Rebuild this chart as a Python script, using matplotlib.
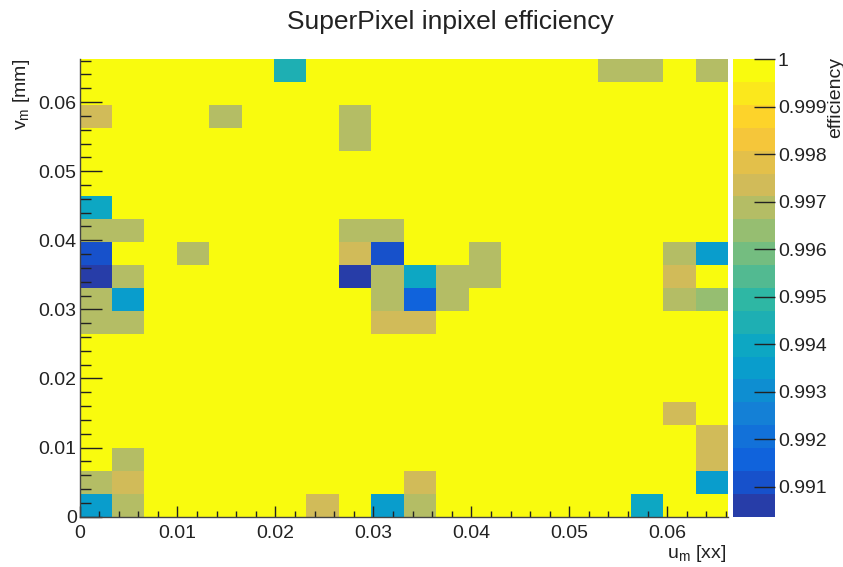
import numpy as np
import matplotlib
matplotlib.use('Agg')
import matplotlib.pyplot as plt
from matplotlib.colors import LinearSegmentedColormap, ListedColormap, Normalize
from matplotlib.ticker import MultipleLocator, FixedLocator, FuncFormatter

plt.rcParams['font.family'] = ['Liberation Sans', 'DejaVu Sans']

# ---------------------------- data ----------------------------
n_bins = 20
u_max = 0.0662   # mm
v_max = 0.0662   # mm
eff_min = 0.99037
eff_max = 1.0

# in-pixel cells below full efficiency (everything else is 1)
bad_u = [6, 16, 17, 19,
         0, 4, 8,
         8,
         0,
         0, 1, 8, 9,
         0, 3, 8, 9, 12, 18, 19,
         0, 1, 8, 9, 10, 11, 12, 18,
         0, 1, 9, 10, 11, 18, 19,
         0, 1, 9, 10,
         18,
         19,
         1, 19,
         0, 1, 10, 19,
         0, 1, 7, 9, 10, 17]
bad_v = [19, 19, 19, 19,
         17, 17, 17,
         16,
         13,
         12, 12, 12, 12,
         11, 11, 11, 11, 11, 11, 11,
         10, 10, 10, 10, 10, 10, 10, 10,
         9, 9, 9, 9, 9, 9, 9,
         8, 8, 8, 8,
         4,
         3,
         2, 2,
         1, 1, 1, 1,
         0, 0, 0, 0, 0, 0]
bad_eff = [0.99446, 0.99687, 0.99687, 0.99687,
           0.99735, 0.99687, 0.99687,
           0.99687,
           0.99398,
           0.99687, 0.99687, 0.99687, 0.99687,
           0.99109, 0.99687, 0.99735, 0.99109, 0.99687, 0.99687, 0.99350,
           0.99040, 0.99687, 0.99040, 0.99687, 0.99398, 0.99687, 0.99687, 0.99735,
           0.99687, 0.99350, 0.99687, 0.99157, 0.99687, 0.99687, 0.99639,
           0.99687, 0.99687, 0.99735, 0.99735,
           0.99735,
           0.99735,
           0.99687, 0.99735,
           0.99687, 0.99735, 0.99735, 0.99350,
           0.99350, 0.99687, 0.99735, 0.99350, 0.99687, 0.99398]

cbar_ticks = [0.991, 0.992, 0.993, 0.994, 0.995, 0.996, 0.997, 0.998, 0.999, 1.0]

# ---------------------------- ROOT kBird palette, 20 contours ----------------------------
stops = [0.0, 0.125, 0.25, 0.375, 0.5, 0.625, 0.75, 0.875, 1.0]
red = [0.2082, 0.0592, 0.0780, 0.0232, 0.1802, 0.5301, 0.8186, 0.9956, 0.9764]
green = [0.1664, 0.3599, 0.5041, 0.6419, 0.7178, 0.7492, 0.7328, 0.7862, 0.9832]
blue = [0.5293, 0.8684, 0.8385, 0.7914, 0.6425, 0.4662, 0.3499, 0.1968, 0.0539]
bird = LinearSegmentedColormap.from_list(
    'bird', list(zip(stops, zip(red, green, blue))), N=255)
cmap = ListedColormap([bird(min((k + 0.99) / n_bins, 1.0)) for k in range(n_bins)])
norm = Normalize(vmin=eff_min, vmax=eff_max)

eff = np.ones((n_bins, n_bins))
for iu, iv, e in zip(bad_u, bad_v, bad_eff):
    eff[iv, iu] = e

u_edges = np.linspace(0, u_max, n_bins + 1)
v_edges = np.linspace(0, v_max, n_bins + 1)

# ---------------------------- plot ----------------------------
fig = plt.figure(figsize=(8.43, 5.67), dpi=100)
ax = fig.add_axes([79.5 / 843, 1 - 516.6 / 567, (728 - 79.5) / 843, (516.6 - 59.3) / 567])
cax = fig.add_axes([733 / 843, 1 - 516.6 / 567, 42 / 843, (516.6 - 59.3) / 567])

mesh = ax.pcolormesh(u_edges, v_edges, eff, cmap=cmap, norm=norm)
ax.set_xlim(0, u_max)
ax.set_ylim(0, v_max)

for side in ['top', 'right']:
    ax.spines[side].set_visible(False)
for side in ['left', 'bottom']:
    ax.spines[side].set_color('#444444')
    ax.spines[side].set_linewidth(1.0)

ax.xaxis.set_major_locator(MultipleLocator(0.01))
ax.xaxis.set_minor_locator(MultipleLocator(0.002))
ax.yaxis.set_major_locator(MultipleLocator(0.01))
ax.yaxis.set_minor_locator(MultipleLocator(0.002))
fmt = FuncFormatter(lambda v, p: f'{v:g}' if abs(v) > 1e-9 else '0')
ax.xaxis.set_major_formatter(fmt)
ax.yaxis.set_major_formatter(fmt)

ax.tick_params(axis='x', which='major', direction='in', length=8, width=1,
               labelsize=14, pad=6, colors='#222222')
ax.tick_params(axis='x', which='minor', direction='in', length=4, width=1, colors='#222222')
ax.tick_params(axis='y', which='major', direction='in', length=16, width=1,
               labelsize=14, pad=2, colors='#222222')
ax.tick_params(axis='y', which='minor', direction='in', length=8, width=1, colors='#222222')

cb = fig.colorbar(mesh, cax=cax)
cb.outline.set_visible(False)
cb.set_ticks(cbar_ticks)
cb.ax.yaxis.set_major_formatter(FuncFormatter(lambda v, p: f'{v:g}'))
cb.ax.minorticks_off()
cax.tick_params(axis='y', direction='in', length=15, width=1, labelsize=14, pad=2,
                colors='#222222')

fig.text(450 / 843, 1 - 22 / 567, 'SuperPixel inpixel efficiency', ha='center', va='center',
         fontsize=19, color='#222222')
fig.text(726 / 843, 1 - 553 / 567, r'u$_{\mathregular{m}}$ [xx]', ha='right', va='center',
         fontsize=14, color='#222222')
fig.text(22 / 843, 1 - 59 / 567, r'v$_{\mathregular{m}}$ [mm]', ha='center', va='top',
         rotation=90, fontsize=14, color='#222222')
fig.text(836 / 843, 1 - 57 / 567, 'efficiency', ha='center', va='top',
         rotation=90, fontsize=14, color='#222222')

fig.savefig('out.png', dpi=100)
